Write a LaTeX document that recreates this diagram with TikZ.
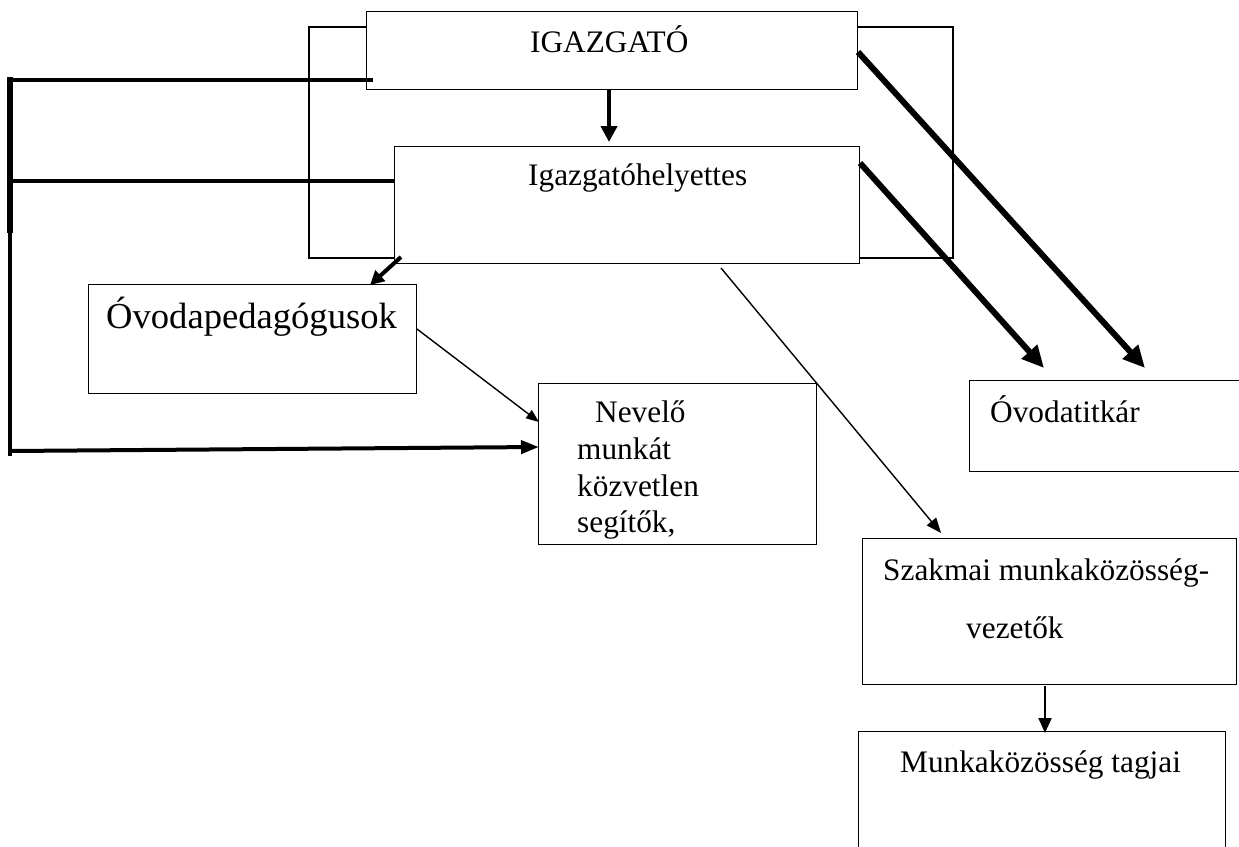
\documentclass[tikz,border=0pt]{standalone}
\usepackage{fontspec}
\setmainfont{Liberation Serif}
\usetikzlibrary{arrows.meta}
\begin{document}
\begin{tikzpicture}[x=1pt,y=-1pt,
  box/.style={draw, line width=1.2pt, fill=white, anchor=north west, inner sep=0pt},
  txt/.style={anchor=base west, inner sep=0pt, font=\fontsize{31.3}{36.7}\selectfont},
  bigtxt/.style={anchor=base west, inner sep=0pt, font=\fontsize{36.6}{42}\selectfont},
  frameline/.style={draw, line width=1.6pt},
  busline/.style={line width=4pt},
  thickarrow/.style={line width=6pt, -{Triangle[length=22pt,width=20pt]}},
  medarrow/.style={line width=4.5pt, -{Triangle[length=16pt,width=16pt]}},
  thinarrow/.style={line width=1.4pt, -{Triangle[length=15pt,width=12pt]}}
]
\clip (0,0) rectangle (1239,846);
\fill[white] (0,0) rectangle (1239,846);

% thin outer frame behind the two top boxes
\draw[frameline] (309,27) rectangle (953,258);

% boxes
\node[box, minimum width=491pt, minimum height=78pt] (igaz) at (366,11) {};
\node[box, minimum width=465pt, minimum height=117pt] (helyettes) at (394,146) {};
\node[box, minimum width=328pt, minimum height=109pt] (ovped) at (88,284) {};
\node[box, minimum width=278pt, minimum height=161pt] (nevelo) at (538,383) {};
\node[box, minimum width=320pt, minimum height=91pt] (titkar) at (969,380) {};
\node[box, minimum width=374pt, minimum height=146pt] (szakmai) at (862,538) {};
\node[box, minimum width=367pt, minimum height=150pt] (tagok) at (858,731) {};

% texts
\node[txt] (tIgaz) at (530,52) {IGAZGATÓ};
\node[txt] (tHely) at (528,185) {Igazgatóhelyettes};
\node[bigtxt] (tOvped) at (106,328) {Óvodapedagógusok};
\node[txt] (tNev1) at (595,422) {Nevelő};
\node[txt] (tNev2) at (577,459) {munkát};
\node[txt] (tNev3) at (577,496) {közvetlen};
\node[txt] (tNev4) at (577,532) {segítők,};
\node[txt] (tTitk) at (990,422) {Óvodatitkár};
\node[txt] (tSzak1) at (883,580) {Szakmai munkaközösség-};
\node[txt] (tSzak2) at (966,638) {vezetők};
\node[txt] (tTag) at (900,772) {Munkaközösség tagjai};

% coordinates for connector ends
\coordinate (bT) at (10,80);
\coordinate (bM) at (10,181);
\coordinate (bK) at (10,233);
\coordinate (bB) at (10,451);
\coordinate (iIn) at (373,80);
\coordinate (nIn) at (539,447);
\coordinate (a1) at (609,142);
\coordinate (hOut) at (401,257);
\coordinate (oIn) at (370,285);
\coordinate (oOut) at (417,329);
\coordinate (nIn2) at (539,422);
\coordinate (hOut2) at (721,268);
\coordinate (sIn) at (941,533);
\coordinate (iOut) at (858,52);
\coordinate (tIn1) at (1145,368);
\coordinate (hOut3) at (860,163);
\coordinate (tIn2) at (1044,368);
\coordinate (sOut) at (1045,686);
\coordinate (gIn) at (1045,733);

% left bus
\draw[line width=6pt] (10,77) -- (bK);
\draw[line width=3.5pt] (bK) -- (10,456);
\draw[busline] (bT) -- (iIn);
\draw[busline] (bM) -- (bM -| helyettes.west);
\draw[busline, -{Triangle[length=18pt,width=13pt]}] (bB) -- (nIn);

% arrows
\draw[medarrow] (igaz.south -| a1) -- (a1);
\draw[line width=4pt, -{Triangle[length=14pt,width=14pt]}] (hOut) -- (oIn);
\draw[thinarrow, -{Triangle[length=13pt,width=10pt]}] (oOut) -- (nIn2);
\draw[thinarrow] (hOut2) -- (sIn);
\draw[thickarrow] (iOut) -- (tIn1);
\draw[thickarrow] (hOut3) -- (tIn2);
\draw[line width=2pt, -{Triangle[length=15pt,width=13pt]}] (sOut) -- (gIn);
\end{tikzpicture}
\end{document}
